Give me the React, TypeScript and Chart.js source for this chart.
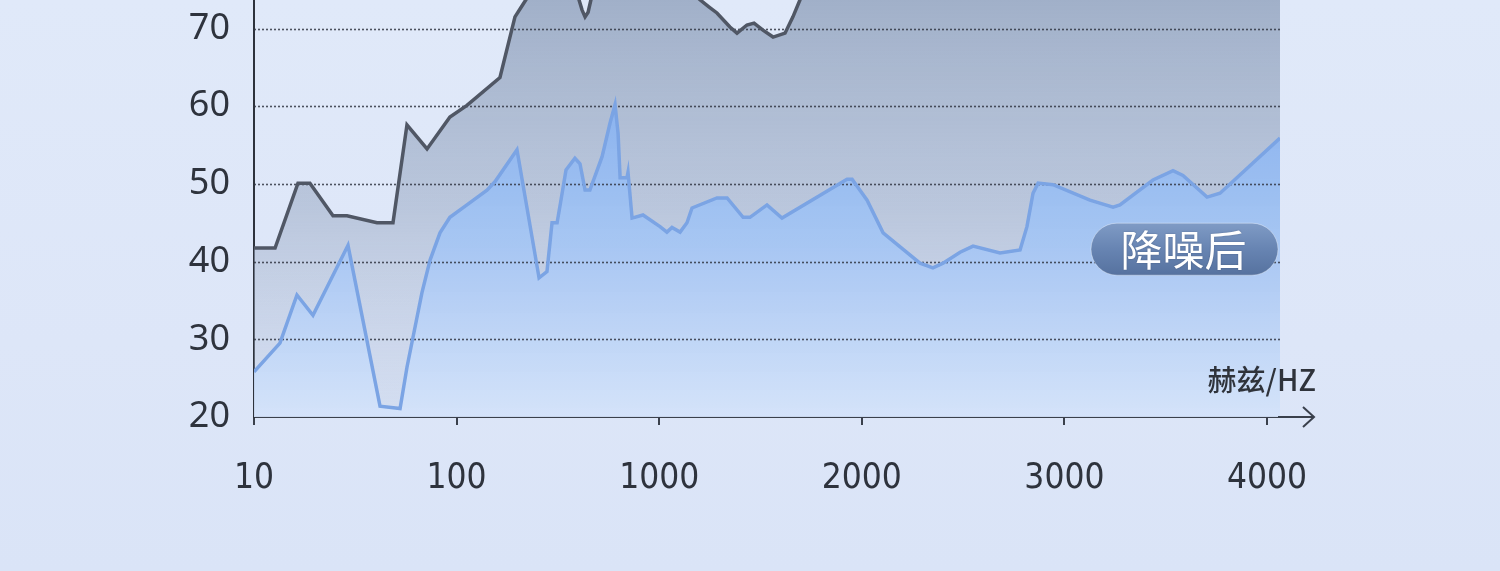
import React, { useEffect, useRef } from "react";
import { Chart, registerables } from "chart.js";

Chart.register(...registerables);

// ---- data ----
const xTickLabels = ["10", "100", "1000", "2000", "3000", "4000"];
const yTickValues = [20, 30, 40, 50, 60, 70];
const axisTitle = "赫兹/HZ";
const seriesNames = ["降噪后", "降噪前"];

// positions along the (non-uniform) frequency axis, in tick units (0 = "10", 1 = "100", ...)
const beforeX = [
  0, 0.104, 0.217, 0.276, 0.39, 0.459, 0.607, 0.686, 0.755, 0.854, 0.967, 1.051, 1.214, 1.288, 1.32, 1.347,
  1.41, 1.56, 1.604, 1.619, 1.634, 1.649, 1.663, 1.72, 2.1, 2.17, 2.201, 2.245, 2.285, 2.349, 2.384, 2.433,
  2.468, 2.512, 2.562, 2.621, 2.66, 2.695, 2.744, 2.85, 5.064,
];
const beforeY = [
  41.75, 41.75, 50.1, 50.1, 45.9, 45.9, 45.0, 45.0, 57.6, 54.5, 58.6, 60.1, 63.7, 71.5, 72.8, 73.9,
  75.5, 76.0, 73.7, 72.4, 71.5, 72.1, 73.7, 76.5, 76.5, 74.5, 73.7, 72.8, 72.0, 70.2, 69.4, 70.45,
  70.7, 69.8, 68.9, 69.4, 71.5, 73.7, 76.0, 78.0, 79.0,
];

const afterX = [
  0, 0.128, 0.212, 0.291, 0.464, 0.622, 0.721, 0.755, 0.785, 0.829, 0.869, 0.918, 0.967, 1.051, 1.15, 1.19,
  1.298, 1.407, 1.446, 1.471, 1.496, 1.515, 1.54, 1.584, 1.609, 1.634, 1.658, 1.718, 1.757, 1.782, 1.797,
  1.807, 1.841, 1.846, 1.866, 1.92, 2.004, 2.038, 2.063, 2.103, 2.137, 2.162, 2.285, 2.335, 2.414, 2.448,
  2.532, 2.606, 2.927, 2.952, 3.026, 3.105, 3.189, 3.287, 3.351, 3.401, 3.485, 3.549, 3.682, 3.781, 3.815,
  3.845, 3.87, 3.944, 4.126, 4.24, 4.274, 4.437, 4.536, 4.585, 4.704, 4.768, 5.064,
];
const afterY = [
  25.8, 29.5, 35.7, 33.1, 42.1, 21.4, 21.1, 26.4, 30.3, 36.0, 40.2, 43.7, 45.7, 47.3, 49.2, 50.3,
  54.4, 37.9, 38.7, 45.0, 45.0, 47.9, 51.8, 53.3, 52.6, 49.2, 49.2, 53.5, 57.8, 60.2, 56.5,
  50.8, 50.8, 51.5, 45.6, 46.0, 44.5, 43.8, 44.4, 43.8, 45.0, 46.9, 48.2, 48.2, 45.7, 45.7,
  47.3, 45.6, 50.6, 50.6, 47.9, 43.7, 41.9, 39.8, 39.2, 39.8, 41.2, 42.0, 41.1, 41.5, 44.5,
  48.8, 50.1, 49.9, 47.9, 47.0, 47.3, 50.5, 51.7, 51.1, 48.3, 48.8, 55.9,
];

const X_MAX = 5.064;
const Y_MIN = 20;
const Y_MAX = 73.67;
const PILL_VALUE = 41.6;

function vGrad(chart: any, stops: [number, string][]) {
  const { ctx, chartArea } = chart;
  if (!chartArea) return stops[0][1];
  const g = ctx.createLinearGradient(0, chartArea.top, 0, chartArea.bottom);
  stops.forEach(([o, c]) => g.addColorStop(o, c));
  return g;
}

const decorPlugin = {
  id: "decor",
  beforeDatasetsDraw(chart: any) {
    const { ctx, chartArea, scales } = chart;
    const y = scales.y;
    ctx.save();
    ctx.strokeStyle = "rgba(50,55,68,0.85)";
    ctx.lineWidth = 1.6;
    ctx.setLineDash([2, 2]);
    yTickValues.forEach((v) => {
      if (v === Y_MIN) return;
      const py = Math.round(y.getPixelForValue(v)) + 0.5;
      ctx.beginPath();
      ctx.moveTo(chartArea.left, py);
      ctx.lineTo(chartArea.right, py);
      ctx.stroke();
    });
    ctx.restore();
  },
  afterDraw(chart: any) {
    const { ctx, chartArea, scales } = chart;
    const yb = chartArea.bottom;
    const r = chartArea.right;
    ctx.save();
    // axis extension + arrow
    ctx.strokeStyle = "#3a404c";
    ctx.lineWidth = 2;
    ctx.beginPath();
    ctx.moveTo(r - 2, yb);
    ctx.lineTo(r + 34, yb);
    ctx.stroke();
    ctx.beginPath();
    ctx.moveTo(r + 23, yb - 10);
    ctx.lineTo(r + 34, yb);
    ctx.lineTo(r + 23, yb + 10);
    ctx.stroke();
    // axis title
    ctx.fillStyle = "#2f333b";
    ctx.font = "500 29px 'Noto Sans CJK SC', 'Noto Sans', sans-serif";
    ctx.textAlign = "right";
    ctx.textBaseline = "middle";
    ctx.fillText(axisTitle, r + 36, yb - 37);
    // pill label
    const cy = scales.y.getPixelForValue(PILL_VALUE);
    const h = 52;
    const w = 187;
    const px = r - 2 - w;
    const py = cy - h / 2;
    const g = ctx.createLinearGradient(0, py, 0, py + h);
    g.addColorStop(0, "#7f9bc5");
    g.addColorStop(0.5, "#6784b2");
    g.addColorStop(1, "#56729f");
    ctx.fillStyle = g;
    ctx.beginPath();
    if (ctx.roundRect) ctx.roundRect(px, py, w, h, h / 2);
    else ctx.rect(px, py, w, h);
    ctx.fill();
    ctx.strokeStyle = "rgba(255,255,255,0.35)";
    ctx.lineWidth = 1;
    ctx.stroke();
    ctx.fillStyle = "#ffffff";
    ctx.shadowColor = "rgba(30,40,70,0.35)";
    ctx.shadowBlur = 2;
    ctx.font = "42px 'Noto Sans CJK SC', sans-serif";
    ctx.textAlign = "center";
    ctx.textBaseline = "middle";
    ctx.fillText(seriesNames[0], px + w / 2 - 1, cy + 1);
    ctx.restore();
  },
};

export default function App() {
  const ref = useRef<HTMLCanvasElement | null>(null);
  useEffect(() => {
    if (!ref.current) return;
    const chart = new Chart(ref.current, {
      type: "line",
      data: {
        datasets: [
          {
            label: seriesNames[0],
            data: afterX.map((x, i) => ({ x, y: afterY[i] })),
            borderColor: "#7ba4e4",
            borderWidth: 3.5,
            pointRadius: 0,
            tension: 0,
            fill: "start",
            backgroundColor: (c: any) =>
              vGrad(c.chart, [
                [0, "rgba(118,166,240,0.95)"],
                [0.25, "rgba(136,178,240,0.95)"],
                [0.6, "rgba(166,198,244,0.92)"],
                [1, "rgba(212,227,250,0.9)"],
              ]),
          },
          {
            label: seriesNames[1],
            data: beforeX.map((x, i) => ({ x, y: beforeY[i] })),
            borderColor: "#505765",
            borderWidth: 3.5,
            pointRadius: 0,
            tension: 0,
            fill: "start",
            backgroundColor: (c: any) =>
              vGrad(c.chart, [
                [0, "rgba(143,160,187,0.78)"],
                [0.5, "rgba(160,175,200,0.58)"],
                [1, "rgba(190,202,224,0.28)"],
              ]),
          },
        ],
      },
      options: {
        responsive: false,
        animation: false,
        events: [],
        layout: { padding: { left: 0, right: 220, top: 0, bottom: 0 } },
        plugins: {
          legend: { display: false },
          tooltip: { enabled: false },
          filler: { drawTime: "beforeDatasetsDraw" },
        },
        scales: {
          x: {
            type: "linear",
            min: 0,
            max: X_MAX,
            afterBuildTicks: (s: any) => {
              s.ticks = xTickLabels.map((_, i) => ({ value: i }));
            },
            afterFit: (s: any) => {
              s.height = 154;
              s.paddingLeft = 0;
              s.paddingRight = 0;
            },
            ticks: {
              callback: (v: any) => xTickLabels[Math.round(v)] ?? "",
              color: "#2e333d",
              padding: 33,
              maxRotation: 0,
              autoSkip: false,
              font: { family: "'Liberation Sans Narrow', 'DejaVu Sans Condensed', 'Noto Sans', sans-serif", size: 35 },
            },
            grid: { display: true, drawOnChartArea: false, drawTicks: true, tickLength: 8, color: "#3a404c", lineWidth: 2 },
            border: { display: true, color: "#3a404c", width: 2 },
          },
          y: {
            type: "linear",
            min: Y_MIN,
            max: Y_MAX,
            afterBuildTicks: (s: any) => {
              s.ticks = yTickValues.map((v) => ({ value: v }));
            },
            afterFit: (s: any) => {
              s.width = 254;
              s.paddingTop = 0;
              s.paddingBottom = 0;
            },
            ticks: {
              color: "#2e333d",
              padding: 24,
              font: { family: "'Noto Sans', sans-serif", size: 36 },
            },
            grid: { display: true, drawOnChartArea: false, drawTicks: false },
            border: { display: true, color: "#2d323c", width: 2 },
          },
        },
      },
      plugins: [decorPlugin],
    } as any);
    return () => chart.destroy();
  }, []);
  return (
    <div
      style={{
        position: "absolute",
        left: 0,
        top: 0,
        width: 1500,
        height: 571,
        overflow: "hidden",
        background: "linear-gradient(180deg, #e0e9f9 0%, #dde6f8 60%, #dae4f7 100%)",
      }}
    >
      <canvas ref={ref} width={1500} height={571} style={{ display: "block" }} />
    </div>
  );
}
